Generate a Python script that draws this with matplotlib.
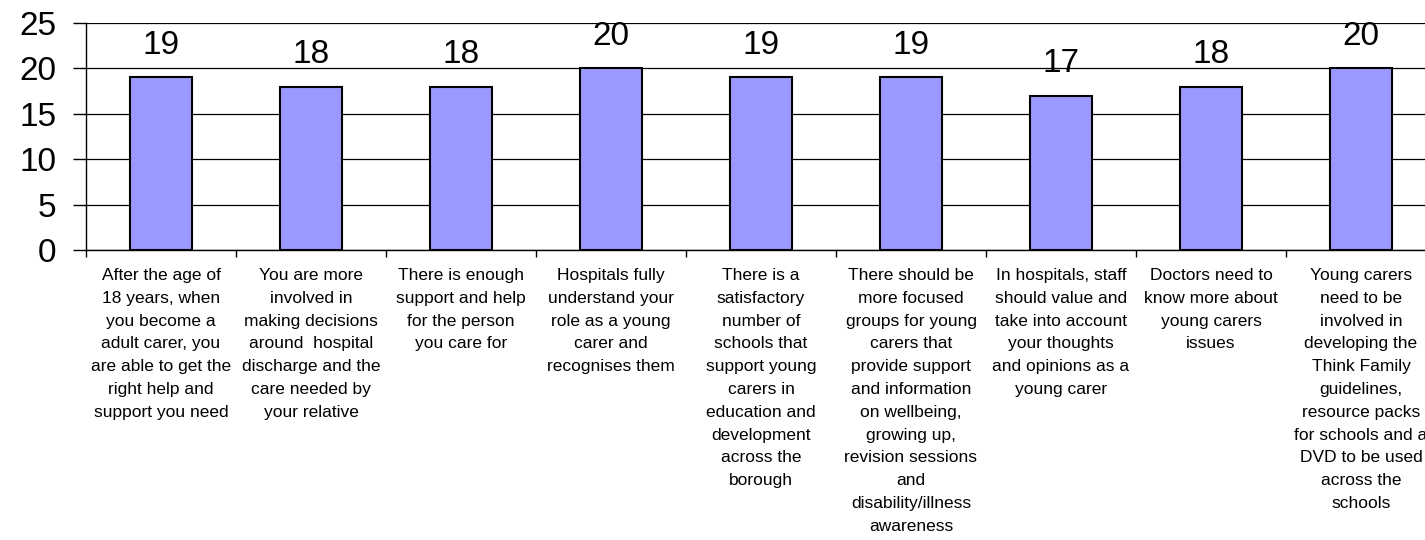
import matplotlib
matplotlib.use('Agg')
import matplotlib.pyplot as plt

plt.rcParams['font.family'] = ['Liberation Sans', 'DejaVu Sans']

labels = [
    "After the age of\n18 years, when\nyou become a\nadult carer, you\nare able to get the\nright help and\nsupport you need",
    "You are more\ninvolved in\nmaking decisions\naround  hospital\ndischarge and the\ncare needed by\nyour relative",
    "There is enough\nsupport and help\nfor the person\nyou care for",
    "Hospitals fully\nunderstand your\nrole as a young\ncarer and\nrecognises them",
    "There is a\nsatisfactory\nnumber of\nschools that\nsupport young\ncarers in\neducation and\ndevelopment\nacross the\nborough",
    "There should be\nmore focused\ngroups for young\ncarers that\nprovide support\nand information\non wellbeing,\ngrowing up,\nrevision sessions\nand\ndisability/illness\nawareness",
    "In hospitals, staff\nshould value and\ntake into account\nyour thoughts\nand opinions as a\nyoung carer",
    "Doctors need to\nknow more about\nyoung carers\nissues",
    "Young carers\nneed to be\ninvolved in\ndeveloping the\nThink Family\nguidelines,\nresource packs\nfor schools and a\nDVD to be used\nacross the\nschools",
]
values = [19, 18, 18, 20, 19, 19, 17, 18, 20]
y_ticks = [0, 5, 10, 15, 20, 25]

W, H = 1425, 540
fig = plt.figure(figsize=(W / 100, H / 100), dpi=100)
# axes runs past the right edge, as in the reference
ax = fig.add_axes([86 / W, (H - 250) / H, 1350 / W, 227 / H])

x = list(range(len(values)))
bars = ax.bar(x, values, width=0.41, color='#9999FF', edgecolor='black',
              linewidth=1.5, zorder=3)
for b, v in zip(bars, values):
    ax.annotate(str(v), (b.get_x() + b.get_width() / 2, v),
                xytext=(0, 12), textcoords='offset points',
                ha='center', va='bottom', fontsize=24)

ax.set_xlim(-0.5, len(values) - 0.5)
ax.set_ylim(0, 25)
ax.set_yticks(y_ticks)
ax.tick_params(axis='y', labelsize=24, length=9.5, width=1, pad=12)
ax.yaxis.grid(True, color='black', linewidth=0.9, zorder=0)

ax.set_xticks([i - 0.5 for i in range(len(values) + 1)])
ax.set_xticklabels([])
ax.set_xticks(x, minor=True)
ax.set_xticklabels(labels, minor=True, fontsize=12.5, linespacing=1.65, va='top')
ax.tick_params(axis='x', which='major', length=5, width=1)
ax.tick_params(axis='x', which='minor', length=0, pad=13)

for s in ['top', 'right']:
    ax.spines[s].set_visible(False)
ax.spines['left'].set_linewidth(1)
ax.spines['bottom'].set_linewidth(1)

fig.savefig('out.png', dpi=100)
